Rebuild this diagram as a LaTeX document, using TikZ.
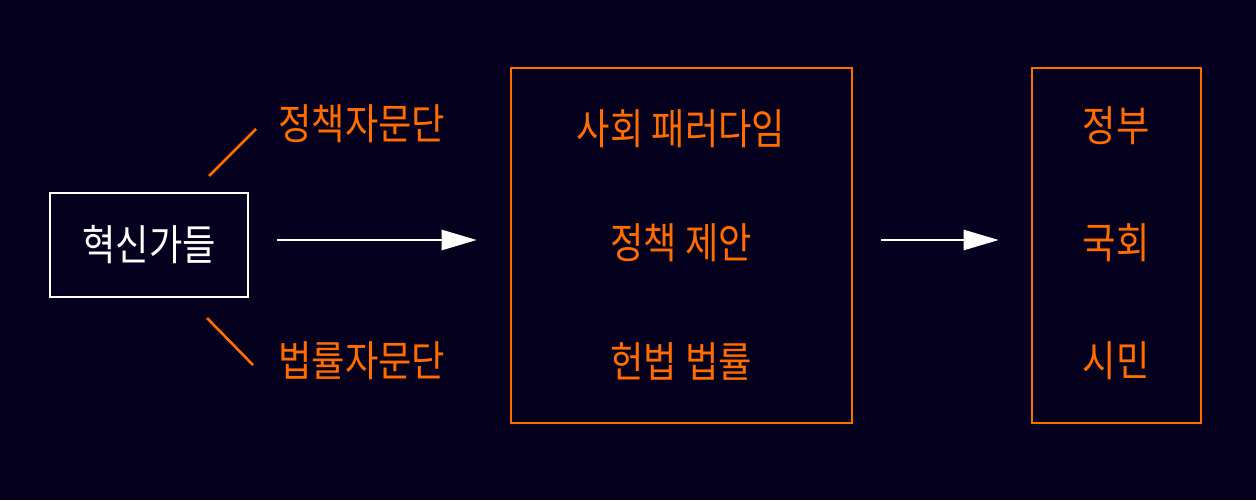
\documentclass[tikz,border=0pt]{standalone}
\usepackage{fontspec}
\setmainfont{Noto Sans CJK KR}[FakeStretch=0.86]
\usetikzlibrary{arrows.meta}
\definecolor{navybg}{RGB}{5,0,30}
\definecolor{hanorange}{RGB}{255,108,0}
\tikzset{
  hantext/.style={font=\fontsize{24}{28}\selectfont, inner sep=0pt},
  orangetext/.style={hantext, text=hanorange},
  whitebox/.style={draw=white, line width=1.3pt, minimum width=3.96cm, minimum height=2.08cm, text=white, hantext},
  orangebox/.style={draw=hanorange, line width=1.5pt, minimum height=7.1cm},
}
\begin{document}
\begin{tikzpicture}[x=0.02cm, y=-0.02cm]
        % background
        \fill[navybg] (0,0) rectangle (1256,500);
        \useasboundingbox (0,0) rectangle (1256,500);
        % boxes
        \node[whitebox] (innov) at (149,245) {혁신가들};
        \node[orangebox, minimum width=6.82cm] (frame) at (681.5,245.5) {};
        \node[orangebox, minimum width=3.38cm] (actors) at (1116.5,245.5) {};
        % advisory groups
        \node[orangetext, anchor=west] (policyadv) at (278,124) {정책자문단};
        \node[orangetext, anchor=west] (lawadv) at (278,361) {법률자문단};
        \coordinate (ptopA) at (209,176);
        \coordinate (ptopB) at (256,129);
        \coordinate (pbotA) at (207,318);
        \coordinate (pbotB) at (253,365);
        \draw [hanorange, line width=1.5pt] (ptopA) -- (ptopB);
        \draw [hanorange, line width=1.5pt] (pbotA) -- (pbotB);
        % inside the middle box
        \node[orangetext] (paradigm) at (681,129) {사회 패러다임};
        \node[orangetext] (proposal) at (681,243) {정책 제안};
        \node[orangetext] (laws) at (681,361) {헌법 법률};
        % inside the right box
        \node[orangetext] (govt) at (1116,126) {정부};
        \node[orangetext] (assembly) at (1116,243) {국회};
        \node[orangetext] (citizens) at (1116,361) {시민};
        % arrows
        \draw [>={Triangle[length=0.7cm, width=0.4cm]}, ->, white, line width=1.4pt,
               shorten <=0.56cm, shorten >=0.66cm] (innov.east |- 0,240) -- (frame.west |- 0,240);
        \draw [>={Triangle[length=0.7cm, width=0.4cm]}, ->, white, line width=1.4pt,
               shorten <=0.56cm, shorten >=0.64cm] (frame.east |- 0,240) -- (actors.west |- 0,240);
\end{tikzpicture}
\end{document}
